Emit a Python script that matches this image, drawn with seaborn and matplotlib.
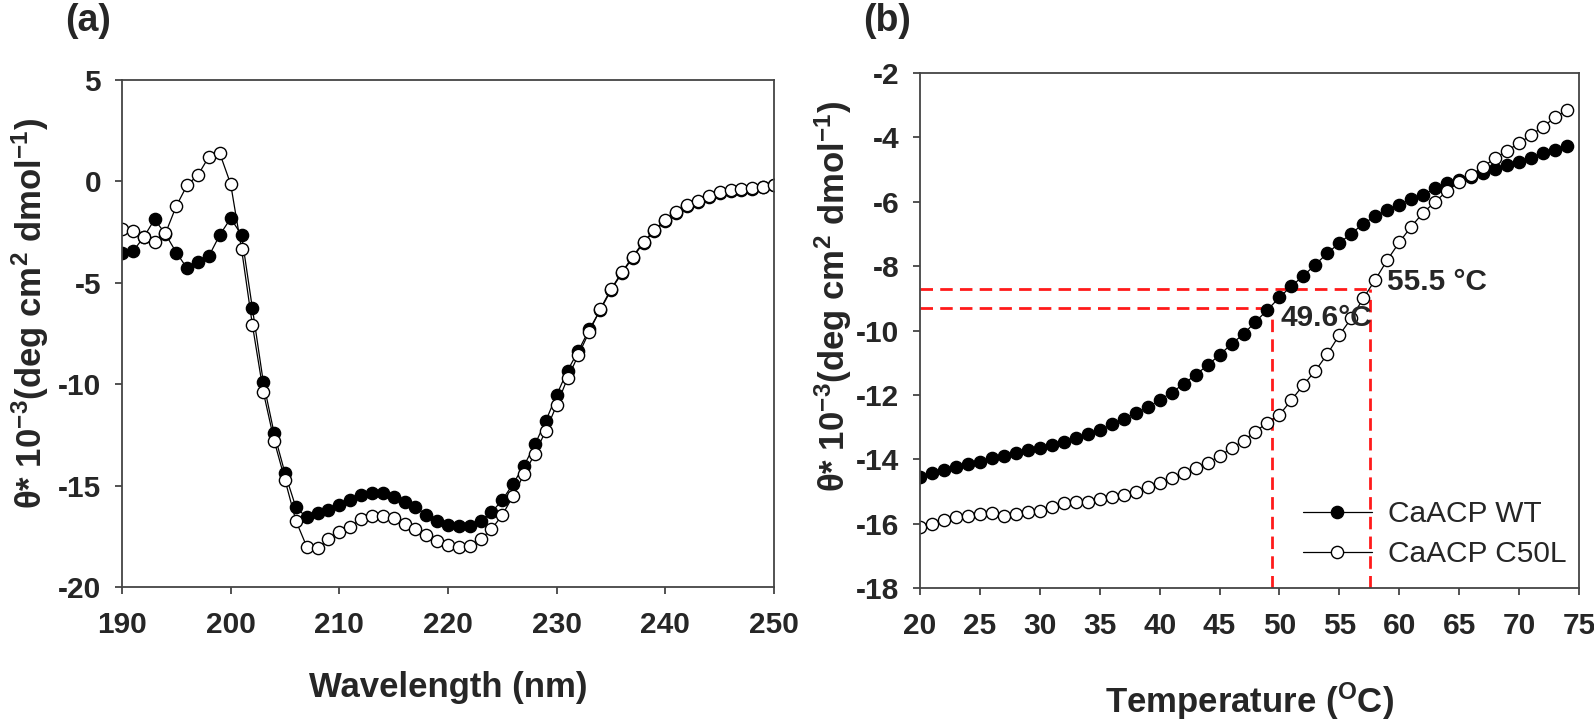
import numpy as np
import pandas as pd
import matplotlib
matplotlib.use("Agg")
import matplotlib.pyplot as plt
import seaborn as sns
from matplotlib.lines import Line2D

# ---------------- data ----------------
wavelength = list(range(190, 251))
wt_cd = [-3.55, -3.45, -2.75, -1.87, -2.6, -3.51, -4.29, -3.96, -3.68, -2.64,
         -1.82, -2.64, -6.26, -9.88, -12.42, -14.39, -16.07, -16.57, -16.37, -16.20,
         -15.96, -15.71, -15.46, -15.35, -15.38, -15.54, -15.79, -16.04, -16.45, -16.73,
         -16.94, -16.99, -16.97, -16.73, -16.32, -15.71, -14.90, -14.01, -12.97, -11.81,
         -10.53, -9.33, -8.35, -7.30, -6.36, -5.36, -4.52, -3.76, -3.02, -2.45,
         -1.96, -1.55, -1.21, -1.01, -0.76, -0.55, -0.46, -0.42, -0.37, -0.29,
         -0.20]
c50l_cd = [-2.35, -2.45, -2.73, -2.97, -2.56, -1.21, -0.18, 0.32, 1.22, 1.38,
           -0.13, -3.33, -7.08, -10.37, -12.78, -14.72, -16.73, -18.01, -18.09, -17.65,
           -17.30, -17.02, -16.66, -16.48, -16.48, -16.61, -16.89, -17.15, -17.44, -17.72,
           -17.93, -18.01, -17.96, -17.65, -17.15, -16.45, -15.50, -14.43, -13.42, -12.29,
           -11.03, -9.71, -8.56, -7.41, -6.31, -5.31, -4.48, -3.71, -2.97, -2.40,
           -1.90, -1.49, -1.16, -0.97, -0.72, -0.51, -0.42, -0.39, -0.34, -0.26,
           -0.18]

temperature = list(range(20, 75))
wt_melt = [-14.54, -14.44, -14.33, -14.25, -14.16, -14.07, -13.97, -13.89, -13.81, -13.71,
           -13.64, -13.55, -13.45, -13.34, -13.22, -13.10, -12.92, -12.75, -12.57, -12.39,
           -12.16, -11.93, -11.66, -11.38, -11.08, -10.76, -10.42, -10.11, -9.73, -9.36,
           -8.97, -8.62, -8.30, -7.95, -7.60, -7.28, -6.99, -6.68, -6.45, -6.26,
           -6.09, -5.92, -5.79, -5.58, -5.43, -5.32, -5.22, -5.12, -4.99, -4.86,
           -4.76, -4.65, -4.49, -4.39, -4.26]
c50l_melt = [-16.09, -16.01, -15.89, -15.78, -15.75, -15.70, -15.66, -15.75, -15.70, -15.63,
             -15.61, -15.47, -15.37, -15.32, -15.32, -15.24, -15.18, -15.11, -15.03, -14.85,
             -14.73, -14.59, -14.44, -14.28, -14.12, -13.90, -13.66, -13.42, -13.14, -12.86,
             -12.62, -12.16, -11.69, -11.25, -10.73, -10.14, -9.62, -9.00, -8.42, -7.81,
             -7.26, -6.77, -6.34, -6.00, -5.66, -5.38, -5.17, -4.91, -4.65, -4.41,
             -4.18, -3.93, -3.67, -3.38, -3.15]

series_labels = ["CaACP WT", "CaACP C50L"]
tm_wt_x, tm_wt_y = 49.36, -9.29
tm_mut_x, tm_mut_y = 57.56, -8.72
tm_labels = ["49.6\u00b0C", "55.5 \u00b0C"]

# ---------------- style ----------------
sns.set_theme(style="ticks")
plt.rcParams["font.family"] = ["Liberation Sans", "DejaVu Sans"]
plt.rcParams["mathtext.default"] = "regular"
plt.rcParams["axes.unicode_minus"] = False
spine_col = "#444444"

fig = plt.figure(figsize=(15.94, 7.2), dpi=100)
axA = fig.add_axes([122/1594, 1-587/720, (774-122)/1594, (587-80)/720])
axB = fig.add_axes([920/1594, 1-588/720, (1579-920)/1594, (588-73)/720])

ms = 8.8
def draw(ax, x, y, filled):
    sns.lineplot(x=x, y=y, ax=ax, color="black", linewidth=0.9, marker="o",
                 markersize=ms, markerfacecolor="black" if filled else "white",
                 markeredgecolor="black", markeredgewidth=1.0, legend=False,
                 errorbar=None, sort=False)

draw(axA, wavelength, wt_cd, True)
draw(axA, wavelength, c50l_cd, False)

# red dashed Tm guides (under points)
red_kw = dict(color="#ff1a1a", linewidth=2.0, dashes=(4.5, 2.6), zorder=1.5)
axB.plot([20, tm_mut_x], [tm_mut_y, tm_mut_y], **red_kw)
axB.plot([20, tm_wt_x], [tm_wt_y, tm_wt_y], **red_kw)
axB.plot([tm_wt_x, tm_wt_x], [-18, tm_wt_y], **red_kw)
axB.plot([tm_mut_x, tm_mut_x], [-18, tm_mut_y], **red_kw)

draw(axB, temperature, wt_melt, True)
draw(axB, temperature, c50l_melt, False)

axB.text(50.05, -9.6, tm_labels[0], fontsize=21.5, fontweight="bold", ha="left", va="center")
axB.text(58.98, -8.49, tm_labels[1], fontsize=21.5, fontweight="bold", ha="left", va="center")

axA.set_xlim(190, 250)
axA.set_ylim(-20, 5)
axA.set_xticks(range(190, 251, 10))
axA.set_yticks(range(-20, 6, 5))
axB.set_xlim(20, 75)
axB.set_ylim(-18, -2)
axB.set_xticks(range(20, 76, 5))
axB.set_yticks(range(-18, -1, 2))

for ax in (axA, axB):
    for s in ax.spines.values():
        s.set_visible(True)
        s.set_color(spine_col)
        s.set_linewidth(1.3)
    ax.tick_params(axis="both", which="major", direction="out", length=5, width=1.3,
                   color=spine_col, labelsize=21.5, pad=10)
    ax.tick_params(axis="x", pad=12)
    ax.tick_params(top=False, right=False)
    for lab in ax.get_xticklabels() + ax.get_yticklabels():
        lab.set_fontweight("bold")

ylab = r"θ* 10$^{-3}$(deg cm$^{2}$ dmol$^{-1}$)"
lab_fs = 25
axA.set_ylabel(ylab, fontsize=lab_fs, fontweight="bold", va="center")
axB.set_ylabel(ylab, fontsize=lab_fs, fontweight="bold", va="center")
axA.set_xlabel("Wavelength (nm)", fontsize=lab_fs, fontweight="bold", va="center")
axB.set_xlabel(r"Temperature ($^{O}$C)", fontsize=lab_fs, fontweight="bold", va="center")
axA.yaxis.set_label_coords(-0.141, 0.54)
axB.yaxis.set_label_coords(-0.131, 0.567)
axA.xaxis.set_label_coords(0.5, -0.199)
axB.xaxis.set_label_coords(0.5, -0.22)

handles = [
    Line2D([], [], color="black", linewidth=0.9, marker="o", markersize=ms,
           markerfacecolor="black", markeredgecolor="black"),
    Line2D([], [], color="black", linewidth=0.9, marker="o", markersize=ms,
           markerfacecolor="white", markeredgecolor="black"),
]
axB.legend(handles, series_labels, loc="center left", bbox_to_anchor=(0.581, 0.104),
           frameon=False, fontsize=21.5, handlelength=2.3, handletextpad=0.55,
           borderpad=0, borderaxespad=0, labelspacing=0.4)

fig.text(65/1594, 1-21/720, "(a)", fontsize=27, fontweight="bold", ha="left", va="center")
fig.text(863/1594, 1-21/720, "(b)", fontsize=27, fontweight="bold", ha="left", va="center")

fig.savefig("out.png", dpi=100)
